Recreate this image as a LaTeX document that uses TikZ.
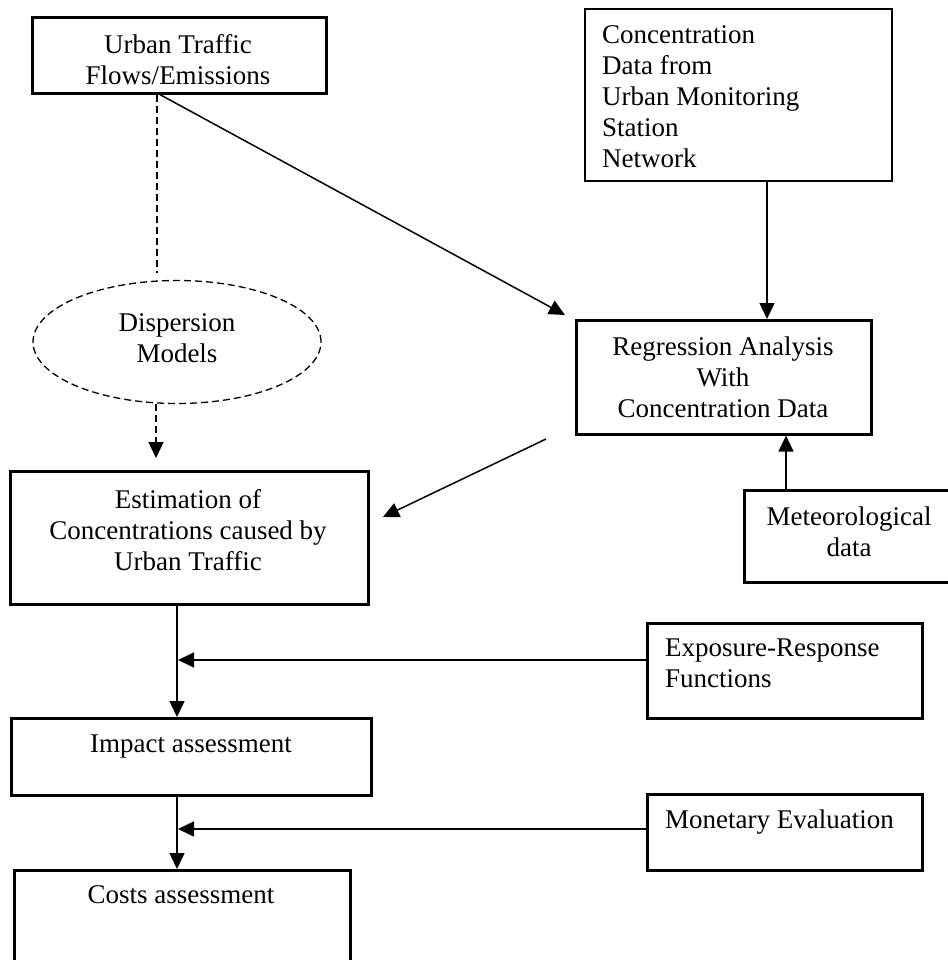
\documentclass[tikz,border=0pt]{standalone}
\usepackage{fontspec}
\setmainfont{Liberation Serif}
\usetikzlibrary{arrows.meta,shapes.geometric,calc}
\begin{document}
\begin{tikzpicture}[x=1pt,y=-1pt,
  box/.style={draw, line width=2.6pt, inner sep=0pt, anchor=north west},
  txt/.style={inner sep=0pt, font=\fontsize{27}{31}\selectfont},
  ctxt/.style={txt, anchor=north, align=center},
  ltxt/.style={txt, anchor=north west, align=left},
  conn/.style={line width=1.5pt},
  arr/.style={conn, -{Triangle[length=16pt,width=15pt]}},
  dsh/.style={dash pattern=on 7pt off 4pt}
]
\useasboundingbox (0,0) rectangle (947,960);
\fill[white] (0,0) rectangle (947,960);

% boxes
\node[box, minimum width=294pt, minimum height=76pt] (b1) at (31,16) {};
\node[box, line width=1.8pt, minimum width=307pt, minimum height=172pt] (b2) at (584,8) {};
\node[box, minimum width=295pt, minimum height=114pt] (reg) at (575,319) {};
\node[box, minimum width=230pt, minimum height=92pt] (met) at (743,489) {};
\node[box, minimum width=358pt, minimum height=133pt] (est) at (9,470) {};
\node[box, minimum width=275pt, minimum height=95pt] (exp) at (646,622) {};
\node[box, minimum width=360pt, minimum height=77pt] (imp) at (10,717) {};
\node[box, minimum width=275pt, minimum height=76pt] (mon) at (646,793) {};
\node[box, minimum width=336pt, minimum height=110pt] (cost) at (13,869) {};
\node[draw, ellipse, dsh, line width=1.3pt, inner sep=0pt,
      minimum width=288pt, minimum height=123pt] (disp) at (177,342) {};

% texts
\node[ctxt] (t1) at (178,34) {Urban Traffic\\Flows/Emissions};
\node[ltxt] (t2) at (602,25) {Concentration\\Data from\\Urban Monitoring\\Station\\Network};
\node[ctxt] (treg) at (723,337) {Regression Analysis\\With\\Concentration Data};
\node[ctxt] (tmet) at (849,507) {Meteorological\\data};
\node[ctxt] (tdisp) at (177,313) {Dispersion\\Models};
\node[ctxt] (test) at (188,489) {Estimation of\\Concentrations caused by\\Urban Traffic};
\node[ltxt] (texp) at (665,639) {Exposure-Response\\Functions};
\node[ctxt] (timp) at (191,735) {Impact assessment};
\node[ltxt] (tmon) at (665,810) {Monetary Evaluation};
\node[ctxt] (tcost) at (181,885) {Costs assessment};

% helper coordinates
\coordinate (kx157) at (157,0);
\coordinate (kx156) at (156,0);
\coordinate (kx160) at (160,0);
\coordinate (kx767) at (767,0);
\coordinate (kx786) at (786,0);
\coordinate (kx177) at (177,0);
\coordinate (ky660) at (0,660);
\coordinate (ky829) at (0,829);
\coordinate (dtop) at (157,273);
\coordinate (dtip) at (156,458);
\coordinate (tipA) at (565,315);
\coordinate (rfrom) at (546,439);
\coordinate (tipB) at (383,517);
\coordinate (tipE) at (178,660);
\coordinate (tipM) at (178,829);

% connectors
\draw[conn, dsh] (b1.south -| kx157) -- (dtop);
\draw[arr, dsh] (disp.south -| kx156) -- (dtip);
\draw[arr] (b1.south -| kx160) -- (tipA);
\draw[arr] (b2.south -| kx767) -- (reg.north -| kx767);
\draw[arr] (rfrom) -- (tipB);
\draw[arr] (met.north -| kx786) -- (reg.south -| kx786);
\draw[arr] (est.south -| kx177) -- (imp.north -| kx177);
\draw[arr] (exp.west |- ky660) -- (tipE);
\draw[arr] (imp.south -| kx177) -- (cost.north -| kx177);
\draw[arr] (mon.west |- ky829) -- (tipM);
\end{tikzpicture}
\end{document}
